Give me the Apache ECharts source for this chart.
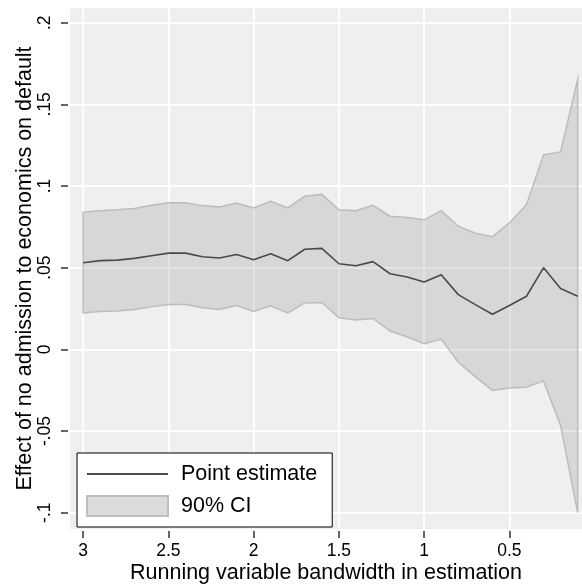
<!DOCTYPE html>
<html>
<head>
<meta charset="utf-8">
<script src="https://cdn.jsdelivr.net/npm/echarts@6/dist/echarts.min.js"></script>
<style>
  html, body { margin: 0; padding: 0; background: #fff; }
  #chart { width: 582px; height: 588px; }
</style>
</head>
<body>
<div id="chart"></div>
<script>
// bandwidths used in the estimation (x axis, reversed)
const bandwidth = [3.0, 2.9, 2.8, 2.7, 2.6, 2.5, 2.4, 2.3, 2.2, 2.1,
                   2.0, 1.9, 1.8, 1.7, 1.6, 1.5, 1.4, 1.3, 1.2, 1.1,
                   1.0, 0.9, 0.8, 0.7, 0.6, 0.5, 0.4, 0.3, 0.2, 0.1]
const estimate = [0.0530, 0.0543, 0.0546, 0.0557, 0.0573, 0.0589, 0.0589, 0.0567, 0.0559, 0.0581,
                  0.0549, 0.0585, 0.0543, 0.0613, 0.0618, 0.0524, 0.0512, 0.0537, 0.0463, 0.0443,
                  0.0412, 0.0457, 0.0335, 0.0274, 0.0215, 0.0268, 0.0325, 0.0500, 0.0372, 0.0325]
const upper = [0.0839, 0.0849, 0.0854, 0.0863, 0.0882, 0.0898, 0.0898, 0.0880, 0.0872, 0.0896,
               0.0866, 0.0906, 0.0866, 0.0937, 0.0949, 0.0855, 0.0849, 0.0882, 0.0815, 0.0807,
               0.0793, 0.0849, 0.0754, 0.0711, 0.0689, 0.0774, 0.0886, 0.1191, 0.1209, 0.1652]
const lower = [0.0223, 0.0232, 0.0235, 0.0244, 0.0260, 0.0274, 0.0274, 0.0254, 0.0244, 0.0268,
               0.0232, 0.0266, 0.0223, 0.0284, 0.0287, 0.0193, 0.0179, 0.0189, 0.0112, 0.0077,
               0.0034, 0.0063, -0.0079, -0.0167, -0.0252, -0.0236, -0.0232, -0.0193, -0.0466, -0.1000]

const xTicks = [3, 2.5, 2, 1.5, 1, 0.5]
const yTicks = [-0.1, -0.05, 0, 0.05, 0.1, 0.15, 0.2]
const yTickLabels = ['-.1', '-.05', '0', '.05', '.1', '.15', '.2']

const FONT = 'Liberation Sans, Arial, sans-serif'
const BORDER = '#bcbcbc'

const chart = echarts.init(document.getElementById('chart'))

const pairs = ys => bandwidth.map((b, i) => [b, ys[i]])

// the CI band as one polygon: upper bound forwards, lower bound backwards
function renderBand(params, api) {
  if (params.dataIndex !== 0) return
  const pts = []
  for (let i = 0; i < bandwidth.length; i++) pts.push(api.coord([bandwidth[i], upper[i]]))
  for (let i = bandwidth.length - 1; i >= 0; i--) pts.push(api.coord([bandwidth[i], lower[i]]))
  return {
    type: 'polygon',
    shape: { points: pts },
    style: { fill: 'rgba(120,120,120,0.2)', stroke: BORDER, lineWidth: 1.5 }
  }
}

chart.setOption({
  animation: false,
  backgroundColor: '#fff',
  textStyle: { fontFamily: FONT },
  grid: {
    left: 70, right: 0, top: 8, bottom: 59,
    outerBoundsMode: 'none',
    containLabel: false,
    show: true, backgroundColor: '#efefef', borderWidth: 0
  },
  legend: {
    data: [
      { name: 'Point estimate', itemStyle: { opacity: 0 } },
      { name: '90% CI', icon: 'rect', itemStyle: { color: '#dcdcdc', borderColor: '#bfbfbf', borderWidth: 2 } }
    ],
    orient: 'vertical',
    left: 77,
    top: 453,
    itemWidth: 81,
    itemHeight: 20,
    itemGap: 10,
    padding: [10, 15, 10, 9],
    backgroundColor: '#fff',
    borderColor: '#000',
    borderWidth: 1,
    selectedMode: false,
    textStyle: { fontSize: 21.5, color: '#000', fontFamily: FONT, padding: [0, 0, 0, 8] }
  },
  xAxis: {
    type: 'value',
    inverse: true,
    min: 0.0745,
    max: 3.077,
    offset: 2,
    name: 'Running variable bandwidth in estimation',
    nameLocation: 'middle',
    nameGap: 31,
    nameMoveOverlap: false,
    nameTextStyle: { fontSize: 21.5, color: '#000', fontFamily: FONT },
    axisLine: { show: false, onZero: false },
    axisTick: { show: true, length: 7, customValues: xTicks, lineStyle: { color: '#333', width: 1.5 } },
    axisLabel: { customValues: xTicks, fontSize: 17.5, color: '#000', margin: 11, fontFamily: FONT },
    splitLine: { show: true, lineStyle: { color: '#fff', width: 1.8 } }
  },
  yAxis: {
    type: 'value',
    min: -0.110,
    max: 0.209,
    offset: 2,
    name: 'Effect of no admission to economics on default',
    nameLocation: 'middle',
    nameGap: 32,
    nameMoveOverlap: false,
    nameTextStyle: { fontSize: 21.5, color: '#000', fontFamily: FONT },
    axisLine: { show: false, onZero: false },
    axisTick: { show: true, length: 7, customValues: yTicks, lineStyle: { color: '#333', width: 1.5 } },
    axisLabel: {
      customValues: yTicks,
      rotate: 90,
      fontSize: 17.5,
      color: '#000',
      margin: 14,
      fontFamily: FONT,
      formatter: v => {
        const i = yTicks.findIndex(t => Math.abs(t - v) < 1e-9)
        return i >= 0 ? yTickLabels[i] : ''
      }
    },
    splitLine: { show: true, lineStyle: { color: '#fff', width: 1.8 } }
  },
  series: [
    {
      name: '90% CI',
      type: 'custom',
      renderItem: renderBand,
      clip: true,
      z: 2,
      itemStyle: { color: '#d7d7d7' },
      encode: { x: 0, y: 1 },
      data: pairs(upper)
    },
    {
      name: 'Point estimate',
      type: 'line',
      symbol: 'none',
      z: 4,
      itemStyle: { color: '#4a4a4a' },
      lineStyle: { color: '#4a4a4a', width: 1.6 },
      data: pairs(estimate)
    }
  ]
})
</script>
</body>
</html>
